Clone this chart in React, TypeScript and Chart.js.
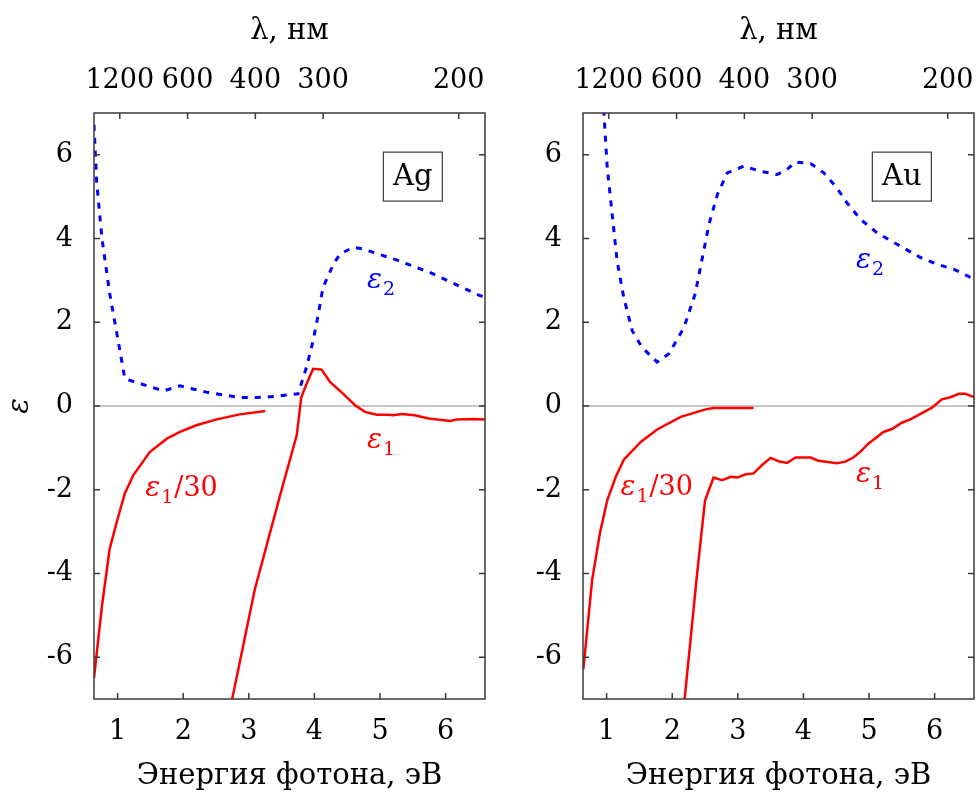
import React, { useEffect, useRef } from 'react';
import { Chart, registerables } from 'chart.js';

Chart.register(...registerables);

// ---------- data ----------
const HC = 1239.84; // eV*nm, photon energy <-> wavelength
const E_MIN = 0.64;
const E_MAX = 6.6;
const Y_MIN = -7;
const Y_MAX = 7;

const energyTicks = [1, 2, 3, 4, 5, 6];
const lambdaTicks = [1200, 600, 400, 300, 200];
const epsTicks = [-6, -4, -2, 0, 2, 4, 6];

// Ag
const agEps2E = [0.64, 0.68, 0.76, 0.88, 0.99, 1.11, 1.70, 1.95, 2.36, 2.86, 3.27, 3.75, 3.88, 3.98, 4.06, 4.13, 4.29, 4.39, 4.59, 4.74, 5.25, 5.76, 6.52, 6.6];
const agEps2 = [6.72, 5.37, 4.02, 2.68, 1.72, 0.65, 0.36, 0.48, 0.33, 0.20, 0.21, 0.29, 0.93, 1.56, 2.20, 2.83, 3.39, 3.63, 3.79, 3.75, 3.49, 3.19, 2.64, 2.60];

const agEps1E = [2.72, 3.09, 3.47, 3.73, 3.80, 3.87, 3.98, 4.11, 4.24, 4.44, 4.62, 4.77, 4.95, 5.13, 5.20, 5.33, 5.53, 5.74, 6.07, 6.17, 6.42, 6.6];
const agEps1 = [-7.2, -4.39, -2.17, -0.70, 0.21, 0.49, 0.89, 0.87, 0.57, 0.29, 0.02, -0.14, -0.21, -0.21, -0.22, -0.19, -0.22, -0.30, -0.36, -0.32, -0.31, -0.32];

const agEps1d30E = [0.64, 0.76, 0.88, 1.01, 1.11, 1.24, 1.49, 1.75, 1.95, 2.20, 2.51, 2.86, 3.25];
const agEps1d30 = [-6.5, -4.79, -3.40, -2.64, -2.09, -1.65, -1.10, -0.78, -0.62, -0.46, -0.32, -0.20, -0.12];

// Au
const auEps2E = [0.93, 0.96, 1.01, 1.09, 1.16, 1.26, 1.39, 1.54, 1.77, 1.95, 2.18, 2.35, 2.46, 2.56, 2.69, 2.84, 3.09, 3.34, 3.60, 3.75, 3.88, 4.11, 4.31, 4.51, 4.66, 4.87, 5.12, 5.42, 5.78, 6.03, 6.29, 6.6];
const auEps2 = [7.7, 6.96, 5.69, 4.50, 3.47, 2.60, 1.80, 1.40, 1.05, 1.25, 1.88, 2.68, 3.55, 4.34, 5.06, 5.57, 5.73, 5.61, 5.53, 5.65, 5.83, 5.79, 5.57, 5.21, 4.86, 4.46, 4.14, 3.87, 3.55, 3.39, 3.27, 3.03];

const auEps1E = [2.17, 2.38, 2.50, 2.63, 2.76, 2.89, 2.99, 3.12, 3.24, 3.37, 3.50, 3.62, 3.75, 3.88, 4.11, 4.23, 4.51, 4.64, 4.76, 4.87, 4.99, 5.22, 5.35, 5.50, 5.63, 5.75, 5.96, 6.11, 6.24, 6.37, 6.47, 6.6];
const auEps1 = [-7.3, -3.99, -2.26, -1.71, -1.77, -1.69, -1.71, -1.63, -1.61, -1.41, -1.24, -1.32, -1.36, -1.23, -1.23, -1.31, -1.37, -1.33, -1.23, -1.09, -0.90, -0.62, -0.55, -0.40, -0.32, -0.22, -0.04, 0.16, 0.21, 0.29, 0.29, 0.21];

const auEps1d30E = [0.645, 0.78, 0.90, 1.01, 1.14, 1.26, 1.52, 1.77, 2.13, 2.51, 2.63, 3.24];
const auEps1d30 = [-6.29, -4.15, -3.02, -2.25, -1.69, -1.29, -0.86, -0.56, -0.26, -0.08, -0.05, -0.05];

// ---------- styles ----------
const FONT = '"DejaVu Serif", serif';
const RED = '#ff0000';
const BLUE = '#0000ff';
const FRAME = '#3a3a3a';
const TICK_SIZE = 27;
const TITLE_SIZE = 29;

type Label = { text: string; sub?: string; tail?: string; e: number; v: number; color: string };
type PanelCfg = {
  left: number;
  width: number;
  yAxisWidth: number;
  padRight: number;
  showYTitle: boolean;
  box: { text: string; e: number; v: number };
  labels: Label[];
  eps2: [number[], number[]];
  eps1: [number[], number[]];
  eps1d30: [number[], number[]];
};

const zip = (xs: number[], ys: number[]) => xs.map((x, i) => ({ x, y: ys[i] }));

const panels: PanelCfg[] = [
  {
    left: 0, width: 490, yAxisWidth: 94, padRight: 5, showYTitle: true,
    box: { text: 'Ag', e: 5.5, v: 5.48 },
    labels: [
      { text: 'ε', sub: '2', e: 4.8, v: 2.99, color: BLUE },
      { text: 'ε', sub: '1', e: 4.8, v: -0.84, color: RED },
      { text: 'ε', sub: '1', tail: '/30', e: 1.42, v: -1.98, color: RED },
    ],
    eps2: [agEps2E, agEps2], eps1: [agEps1E, agEps1], eps1d30: [agEps1d30E, agEps1d30],
  },
  {
    left: 490, width: 486, yAxisWidth: 93, padRight: 2, showYTitle: false,
    box: { text: 'Au', e: 5.5, v: 5.48 },
    labels: [
      { text: 'ε', sub: '2', e: 4.8, v: 3.47, color: BLUE },
      { text: 'ε', sub: '1', e: 4.8, v: -1.64, color: RED },
      { text: 'ε', sub: '1', tail: '/30', e: 1.21, v: -1.97, color: RED },
    ],
    eps2: [auEps2E, auEps2], eps1: [auEps1E, auEps1], eps1d30: [auEps1d30E, auEps1d30],
  },
];

function makePlugin(cfg: PanelCfg) {
  return {
    id: 'decor',
    beforeDatasetsDraw(chart: any) {
      const { ctx, chartArea: a, scales } = chart;
      const y0 = scales.y.getPixelForValue(0);
      ctx.save();
      ctx.strokeStyle = '#b3b3b3';
      ctx.lineWidth = 1.5;
      ctx.beginPath();
      ctx.moveTo(a.left, y0);
      ctx.lineTo(a.right, y0);
      ctx.stroke();
      ctx.restore();
    },
    afterDatasetsDraw(chart: any) {
      const { ctx, chartArea: a, scales } = chart;
      const xs = scales.x;
      const ys = scales.y;
      const TL = 6;
      ctx.save();
      ctx.strokeStyle = FRAME;
      ctx.lineWidth = 1.5;
      ctx.strokeRect(a.left, a.top, a.right - a.left, a.bottom - a.top);
      ctx.beginPath();
      energyTicks.forEach((e) => {
        const px = xs.getPixelForValue(e);
        ctx.moveTo(px, a.bottom);
        ctx.lineTo(px, a.bottom - TL);
      });
      lambdaTicks.forEach((l) => {
        const px = xs.getPixelForValue(HC / l);
        ctx.moveTo(px, a.top);
        ctx.lineTo(px, a.top + TL);
      });
      epsTicks.forEach((v) => {
        const py = ys.getPixelForValue(v);
        ctx.moveTo(a.left, py);
        ctx.lineTo(a.left + TL, py);
        ctx.moveTo(a.right, py);
        ctx.lineTo(a.right - TL, py);
      });
      ctx.stroke();

      // box label
      const bx = xs.getPixelForValue(cfg.box.e);
      const by = ys.getPixelForValue(cfg.box.v);
      const bw = 59, bh = 49;
      ctx.fillStyle = '#fff';
      ctx.fillRect(bx - bw / 2, by - bh / 2, bw, bh);
      ctx.strokeStyle = FRAME;
      ctx.lineWidth = 1.2;
      ctx.strokeRect(bx - bw / 2, by - bh / 2, bw, bh);
      ctx.font = `29px ${FONT}`;
      ctx.fillStyle = '#000';
      ctx.textAlign = 'center';
      ctx.textBaseline = 'middle';
      ctx.fillText(cfg.box.text, bx, by + 1);

      // curve labels
      cfg.labels.forEach((lb) => {
        let x = xs.getPixelForValue(lb.e);
        const yMid = ys.getPixelForValue(lb.v);
        const base = yMid + 7;
        ctx.fillStyle = lb.color;
        ctx.textAlign = 'left';
        ctx.textBaseline = 'alphabetic';
        ctx.font = `italic 28px ${FONT}`;
        ctx.fillText(lb.text, x, base);
        x += ctx.measureText(lb.text).width;
        if (lb.sub) {
          ctx.font = `19px ${FONT}`;
          ctx.fillText(lb.sub, x + 1, base + 7);
          x += ctx.measureText(lb.sub).width + 1;
        }
        if (lb.tail) {
          ctx.font = `27px ${FONT}`;
          ctx.fillText(lb.tail, x + 1, base);
        }
      });
      ctx.restore();
    },
  };
}

const noHPad = (s: any) => { s.paddingLeft = 0; s.paddingRight = 0; };
const noVPad = (s: any) => { s.paddingTop = 0; s.paddingBottom = 0; };

function Panel({ cfg }: { cfg: PanelCfg }) {
  const ref = useRef<HTMLCanvasElement>(null);
  useEffect(() => {
    if (!ref.current) return;
    const tickFont = { family: FONT, size: TICK_SIZE, lineHeight: 1.2 };
    const titleFont = { family: FONT, size: TITLE_SIZE, lineHeight: 1.2 };
    const chart = new Chart(ref.current, {
      type: 'line',
      data: {
        datasets: [
          { label: 'eps2', data: zip(cfg.eps2[0], cfg.eps2[1]), borderColor: BLUE, borderWidth: 3, borderDash: [6, 7], pointRadius: 0, tension: 0, fill: false },
          { label: 'eps1', data: zip(cfg.eps1[0], cfg.eps1[1]), borderColor: RED, borderWidth: 2.5, pointRadius: 0, tension: 0, fill: false },
          { label: 'eps1/30', data: zip(cfg.eps1d30[0], cfg.eps1d30[1]), borderColor: RED, borderWidth: 2.5, pointRadius: 0, tension: 0, fill: false },
        ],
      },
      options: {
        animation: false,
        responsive: false,
        devicePixelRatio: 1,
        layout: { padding: { left: 0, right: cfg.padRight, top: 0, bottom: 0 } },
        plugins: { legend: { display: false }, tooltip: { enabled: false }, title: { display: false } },
        scales: {
          x: {
            type: 'linear', position: 'bottom', min: E_MIN, max: E_MAX,
            grid: { display: false, drawTicks: false }, border: { display: false },
            ticks: { padding: 17, font: tickFont, color: '#000', maxRotation: 0, minRotation: 0, autoSkip: false, callback: (v: any) => String(v) },
            afterBuildTicks: (s: any) => { s.ticks = energyTicks.map((v) => ({ value: v })); },
            afterFit: (s: any) => { s.height = 97; noHPad(s); },
            title: { display: true, text: 'Энергия фотона, эВ', font: titleFont, color: '#000', padding: { top: 0, bottom: 2 } },
          },
          xTop: {
            type: 'linear', position: 'top', min: E_MIN, max: E_MAX,
            grid: { display: false, drawTicks: false }, border: { display: false },
            ticks: { padding: 16, font: tickFont, color: '#000', maxRotation: 0, minRotation: 0, autoSkip: false, callback: (_v: any, i: number) => String(lambdaTicks[i]) },
            afterBuildTicks: (s: any) => { s.ticks = lambdaTicks.map((l) => ({ value: HC / l })); },
            afterFit: (s: any) => { s.height = 113; noHPad(s); },
            title: { display: true, text: 'λ, нм', font: titleFont, color: '#000', padding: { top: 14, bottom: 0 } },
          },
          y: {
            type: 'linear', position: 'left', min: Y_MIN, max: Y_MAX,
            grid: { display: false, drawTicks: false }, border: { display: false },
            ticks: { padding: 21, font: tickFont, color: '#000', autoSkip: false },
            afterBuildTicks: (s: any) => { s.ticks = epsTicks.map((v) => ({ value: v })); },
            afterFit: (s: any) => { s.width = cfg.yAxisWidth; noVPad(s); },
            title: { display: cfg.showYTitle, text: 'ε', font: { ...titleFont, style: 'italic' }, color: '#000', padding: { top: 3, bottom: 0 } },
          },
        },
      } as any,
      plugins: [makePlugin(cfg)],
    });
    return () => chart.destroy();
  }, [cfg]);
  return (
    <canvas
      ref={ref}
      width={cfg.width}
      height={796}
      style={{ position: 'absolute', left: cfg.left, top: 0, width: cfg.width, height: 796, display: 'block' }}
    />
  );
}

export default function App() {
  return (
    <div style={{ position: 'fixed', left: 0, top: 0, width: 976, height: 796, background: '#fff' }}>
      {panels.map((p, i) => (
        <Panel key={i} cfg={p} />
      ))}
    </div>
  );
}
